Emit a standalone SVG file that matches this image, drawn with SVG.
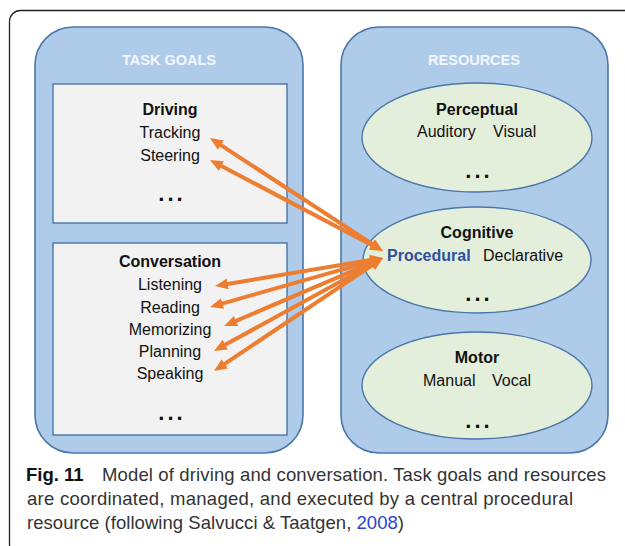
<svg xmlns="http://www.w3.org/2000/svg" width="625" height="546" viewBox="0 0 625 546">
<style>
.frame{fill:#fff;stroke:#222;stroke-width:1.3}
.panel{fill:#AECCE9;stroke:#4A76A8;stroke-width:1.6}
.box{fill:#F2F2F2;stroke:#4A76A8;stroke-width:1.4}
.ell{fill:#E3EFDB;stroke:#4A76A8;stroke-width:1.4}
.hdr{font-family:"Liberation Sans",Arial,sans-serif;font-weight:bold;font-size:14.5px;fill:#F3F7FC;text-anchor:middle}
.t{font-family:"Liberation Sans",Arial,sans-serif;font-size:16px;fill:#111}
.c{text-anchor:middle}
.b{font-weight:bold}
.dots{font-family:"Liberation Sans",Arial,sans-serif;font-weight:bold;font-size:22px;fill:#111;text-anchor:middle;letter-spacing:3px}
.proc{fill:#2F4F9E;font-weight:bold}
.arr{stroke:#ED7D31;stroke-width:4;fill:none;marker-start:url(#ah);marker-end:url(#ah)}
.cap{font-family:"Liberation Sans",Arial,sans-serif;font-size:18.5px;fill:#333}
</style>
<defs>
<marker id="ah" markerUnits="userSpaceOnUse" markerWidth="14" markerHeight="12" refX="5" refY="5.5" orient="auto-start-reverse">
<path d="M0,0 L13,5.5 L0,11 z" fill="#ED7D31"/>
</marker>
</defs>
<rect class="frame" x="9.5" y="10.5" width="700" height="545" rx="11"/>

<g id="task-goals">
<rect class="panel" x="35" y="27" width="268" height="426" rx="38"/>
<text class="hdr" x="169" y="65">TASK GOALS</text>
</g>
<g id="driving">
<rect class="box" x="53" y="84" width="234" height="139"/>
<text class="t c b" x="170" y="115">Driving</text>
<text class="t c" x="170" y="138">Tracking</text>
<text class="t c" x="170" y="161">Steering</text>
<text class="dots" x="172" y="201">...</text>
</g>
<g id="conversation">
<rect class="box" x="53" y="243" width="234" height="192"/>
<text class="t c b" x="170" y="267">Conversation</text>
<text class="t c" x="170" y="290">Listening</text>
<text class="t c" x="170" y="313">Reading</text>
<text class="t c" x="170" y="335">Memorizing</text>
<text class="t c" x="170" y="357">Planning</text>
<text class="t c" x="170" y="379">Speaking</text>
<text class="dots" x="172" y="420">...</text>
</g>

<g id="resources">
<rect class="panel" x="341" y="27" width="267" height="426" rx="38"/>
<text class="hdr" x="474" y="65">RESOURCES</text>
</g>
<g id="perceptual">
<ellipse class="ell" cx="477" cy="137.5" rx="115" ry="54.5"/>
<text class="t c b" x="477" y="115">Perceptual</text>
<text class="t" x="417" y="137">Auditory</text>
<text class="t" x="493" y="137">Visual</text>
<text class="dots" x="479" y="178">...</text>
</g>
<g id="cognitive">
<ellipse class="ell" cx="477" cy="260" rx="114" ry="53"/>
<text class="t c b" x="477" y="238">Cognitive</text>
<text class="t proc" x="387" y="261">Procedural</text>
<text class="t" x="483" y="261">Declarative</text>
<text class="dots" x="479" y="301">...</text>
</g>
<g id="motor">
<ellipse class="ell" cx="477" cy="385.5" rx="115" ry="53.5"/>
<text class="t c b" x="477" y="363">Motor</text>
<text class="t" x="423" y="386">Manual</text>
<text class="t" x="492" y="386">Vocal</text>
<text class="dots" x="479" y="428">...</text>
</g>

<g id="connectors">
<path class="arr" d="M376.3,246.6 L216.7,142.4"/>
<path class="arr" d="M375.9,247.3 L217.1,163.7"/>
<path class="arr" d="M375.1,259.3 L222.9,284.7"/>
<path class="arr" d="M375.3,260.2 L217.7,304.8"/>
<path class="arr" d="M375.6,261.1 L231.4,322.9"/>
<path class="arr" d="M376.0,261.9 L221.0,347.1"/>
<path class="arr" d="M376.4,262.4 L220.6,366.6"/>
</g>

<g id="caption">
<text class="cap" x="26" y="481"><tspan font-weight="bold" fill="#111">Fig. 11</tspan></text>
<text class="cap" x="102" y="481" textLength="504" lengthAdjust="spacing">Model of driving and conversation. Task goals and resources</text>
<text class="cap" x="27" y="505" textLength="546" lengthAdjust="spacing">are coordinated, managed, and executed by a central procedural</text>
<text class="cap" x="27" y="529" textLength="377" lengthAdjust="spacing">resource (following Salvucci &amp; Taatgen, <tspan fill="#2B3FD6">2008</tspan>)</text>
</g>
</svg>
